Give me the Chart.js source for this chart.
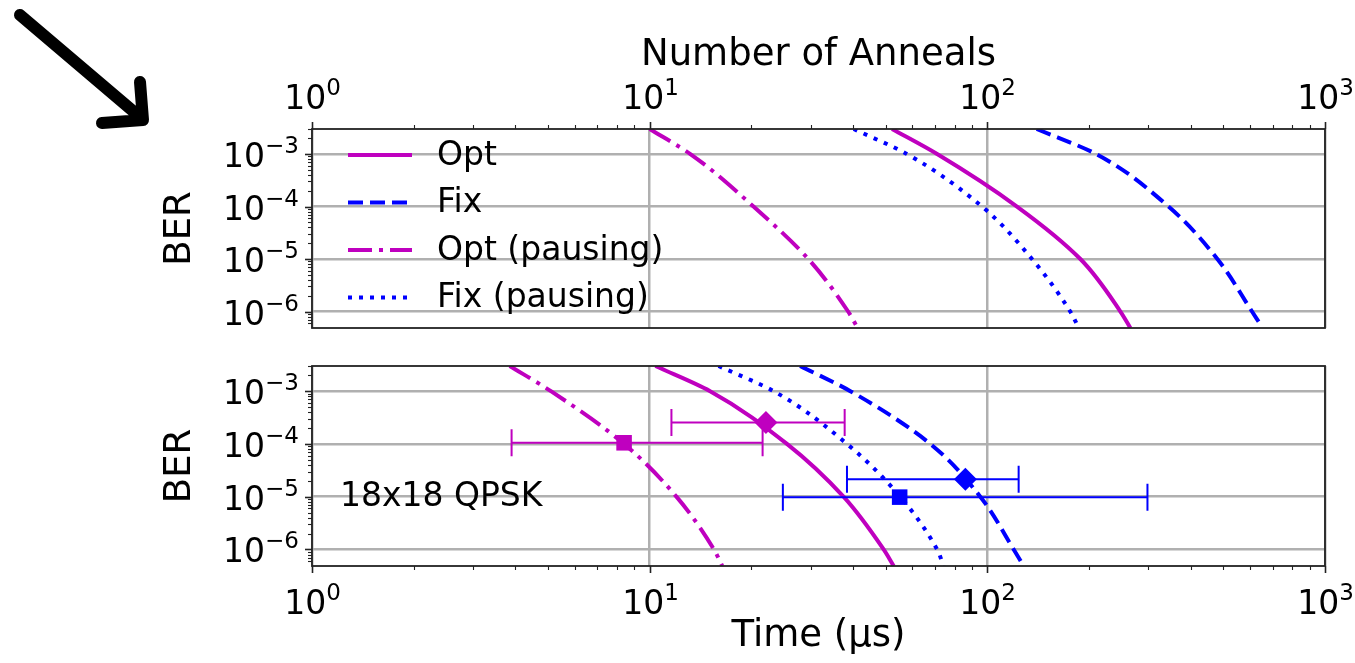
<!DOCTYPE html>
<html>
<head>
<meta charset="utf-8">
<title>BER vs time</title>
<script src="https://cdn.jsdelivr.net/npm/chart.js@4.4.1/dist/chart.umd.min.js"></script>
<style>
  html, body { margin: 0; padding: 0; background: #fff; }
  #wrap { position: relative; width: 1355px; height: 663px; overflow: hidden; }
  #topBox { position: absolute; left: 0; top: 0; width: 1355px; height: 345px; }
  #bottomBox { position: absolute; left: 0; top: 345px; width: 1355px; height: 318px; }
</style>
</head>
<body>
<div id="wrap">
  <div id="topBox"><canvas id="topChart"></canvas></div>
  <div id="bottomBox"><canvas id="bottomChart"></canvas></div>
</div>
<script>
// axis ranges
const X_MIN = 1, X_MAX = 1000;
const BER_MIN = 4.85e-7, BER_MAX = 3.0e-3;

// BER levels the curves were read at (top edge, each decade, bottom edge)
const curveBer = [3.0e-3, 1e-3, 1e-4, 1e-5, 1e-6, 4.85e-7];
const fixTopBer = [3.0e-3, 1e-3, 1e-4, 1e-5, 1e-6, 6.3e-7];

// top panel, x = number of anneals
const annealOpt = [52.2, 71, 122.4, 188.6, 247.8, 265.3];
const annealFix = [140, 210, 344, 480, 608, 637];
const annealOptPause = [10, 13.2, 20.3, 29.5, 38.7, 41.3];
const annealFixPause = [40.2, 57.8, 96.4, 135.6, 176, 186.5];

// bottom panel, x = time in us
const timeOpt = [10.4, 15.1, 25.5, 37.5, 49.3, 52.8];
const timeFix = [27.9, 39.3, 67.8, 95.3, 119.7, 128.1];
const timeOptPause = [3.85, 5.1, 8.4, 12.0, 15.5, 16.4];
const timeFixPause = [16.0, 23.3, 38.4, 55.2, 71, 74.2];

// measured points with horizontal error bars
const measLabels = ['Opt (pausing)', 'Opt', 'Fix (pausing)', 'Fix'];
const measTime = [8.4, 22.1, 55, 86.1];
const measTimeLow = [3.9, 11.6, 24.8, 38.4];
const measTimeHigh = [21.6, 37.8, 298, 123.8];
const measBer = [1.05e-4, 2.55e-4, 0.98e-5, 2.13e-5];

const MAGENTA = '#bf00bf';
const BLUE = '#0000ff';
const FONT = 'DejaVu Sans';
const FONT_SIZE = 33;
const SUP_SIZE = 23;
const TITLE_SIZE = 37;

Chart.defaults.font.family = FONT;
Chart.defaults.font.size = FONT_SIZE;
Chart.defaults.color = '#000';

function decade(v) {
  const e = Math.log10(v);
  const r = Math.round(e);
  return Math.abs(e - r) < 1e-6 ? r : null;
}

// 1..9 for ticks on the log grid, null for anything else (axis ends, 1.5 steps)
function mantissa(v) {
  const e = Math.floor(Math.log10(v) + 1e-9);
  const m = v / Math.pow(10, e);
  const r = Math.round(m);
  return (Math.abs(m - r) < 1e-6 && r >= 1 && r <= 9) ? r : null;
}

function pts(xs, ys) {
  return xs.map((x, i) => ({x: x, y: ys[i]}));
}

// curves are smooth in x as a function of BER, so BER is the index axis
function curve(label, xs, ys, color, dash) {
  return {
    type: 'line',
    indexAxis: 'y',
    label: label,
    data: pts(xs, ys),
    borderColor: color,
    backgroundColor: color,
    borderWidth: 4,
    borderDash: dash,
    borderCapStyle: 'butt',
    pointRadius: 0,
    fill: false,
    cubicInterpolationMode: 'monotone',
    clip: 0
  };
}

function marker(i, color, style) {
  return {
    label: measLabels[i],
    data: [{x: measTime[i], y: measBer[i]}],
    errLow: [measTimeLow[i]],
    errHigh: [measTimeHigh[i]],
    borderColor: color,
    backgroundColor: color,
    pointStyle: style,
    pointRadius: style === 'rect' ? 11 : 11.5,
    borderWidth: 0
  };
}

const DASH_OPT = [];
const DASH_FIX = [15, 7];
const DASH_OPT_PAUSE = [24, 7, 4, 7];
const DASH_FIX_PAUSE = [4, 7];

const gridColor = ctx => (ctx.tick && decade(ctx.tick.value) !== null) ? '#b0b0b0' : 'rgba(0,0,0,0)';

function xAxis(position, title, height) {
  return {
    type: 'logarithmic',
    position: position,
    min: X_MIN,
    max: X_MAX,
    title: {display: true, text: title, font: {size: TITLE_SIZE}, padding: {top: 4, bottom: 4}},
    ticks: {display: false, autoSkip: false},
    grid: {color: gridColor, lineWidth: 2.5, drawTicks: false},
    border: {display: false},
    afterFit: s => {
      s.height = height;
      s.paddingLeft = 0;
      s.paddingRight = 0;
    }
  };
}

function yAxis() {
  return {
    type: 'logarithmic',
    position: 'left',
    min: BER_MIN,
    max: BER_MAX,
    title: {display: true, text: 'BER', font: {size: TITLE_SIZE}, padding: {top: 4, bottom: 4}},
    ticks: {display: false, autoSkip: false},
    grid: {color: gridColor, lineWidth: 2.5, drawTicks: false},
    border: {display: false},
    afterFit: s => {
      s.width = 158;
      s.paddingTop = 0;
      s.paddingBottom = 0;
    }
  };
}

// draws "10" with a raised exponent, like matplotlib's log tick labels
function drawPow(ctx, exp, x, baseline, align) {
  const base = '10';
  const sup = exp < 0 ? '\u2212' + (-exp) : String(exp);
  ctx.font = FONT_SIZE + 'px "' + FONT + '"';
  const wb = ctx.measureText(base).width;
  ctx.font = SUP_SIZE + 'px "' + FONT + '"';
  const ws = ctx.measureText(sup).width;
  const start = align === 'right' ? x - wb - ws : x - (wb + ws) / 2;
  ctx.font = FONT_SIZE + 'px "' + FONT + '"';
  ctx.fillText(base, start, baseline);
  ctx.font = SUP_SIZE + 'px "' + FONT + '"';
  ctx.fillText(sup, start + wb, baseline - 14);
}

// axes box, matplotlib style major/minor tick marks and decade labels
const frame = {
  id: 'frame',
  afterDraw(chart) {
    const {ctx, chartArea} = chart;
    const xs = chart.scales.x, ys = chart.scales.y;
    ctx.save();
    ctx.strokeStyle = '#222';
    ctx.fillStyle = '#000';
    ctx.textBaseline = 'alphabetic';
    ctx.textAlign = 'left';
    xs.ticks.forEach(t => {
      const m = mantissa(t.value);
      if (m === null) return;
      const len = m === 1 ? 7 : 4;
      const px = Math.round(xs.getPixelForValue(t.value)) + 0.5;
      ctx.lineWidth = m === 1 ? 1.6 : 1.1;
      ctx.beginPath();
      if (xs.position === 'top') {
        ctx.moveTo(px, chartArea.top);
        ctx.lineTo(px, chartArea.top - len);
      } else {
        ctx.moveTo(px, chartArea.bottom);
        ctx.lineTo(px, chartArea.bottom + len);
      }
      ctx.stroke();
      const e = decade(t.value);
      if (e !== null) {
        const bl = xs.position === 'top' ? chartArea.top - 20 : chartArea.bottom + 48;
        drawPow(ctx, e, px, bl, 'center');
      }
    });
    ys.ticks.forEach(t => {
      const m = mantissa(t.value);
      if (m === null) return;
      const len = m === 1 ? 7 : 4;
      const py = Math.round(ys.getPixelForValue(t.value)) + 0.5;
      ctx.lineWidth = m === 1 ? 1.6 : 1.1;
      ctx.beginPath();
      ctx.moveTo(chartArea.left, py);
      ctx.lineTo(chartArea.left - len, py);
      ctx.stroke();
      const e = decade(t.value);
      if (e !== null) drawPow(ctx, e, chartArea.left - 13, py + 12, 'right');
    });
    ctx.lineWidth = 1.8;
    ctx.strokeRect(chartArea.left, chartArea.top, chartArea.right - chartArea.left, chartArea.bottom - chartArea.top);
    ctx.restore();
  }
};

// legend drawn inside the plot, upper left, no frame
const insideLegend = {
  id: 'insideLegend',
  afterDatasetsDraw(chart, args, opts) {
    const {ctx, chartArea} = chart;
    ctx.save();
    ctx.font = FONT_SIZE + 'px "' + FONT + '"';
    ctx.textBaseline = 'middle';
    ctx.textAlign = 'left';
    chart.data.datasets.forEach((ds, i) => {
      const y = chartArea.top + opts.top + i * opts.rowGap;
      const x0 = chartArea.left + opts.left;
      ctx.strokeStyle = ds.borderColor;
      ctx.lineWidth = ds.borderWidth;
      ctx.lineCap = 'butt';
      ctx.setLineDash(ds.borderDash || []);
      ctx.beginPath();
      ctx.moveTo(x0, y);
      ctx.lineTo(x0 + opts.lineLen, y);
      ctx.stroke();
      ctx.setLineDash([]);
      ctx.fillStyle = '#000';
      ctx.fillText(ds.label, x0 + opts.lineLen + opts.gap, y + 1);
    });
    ctx.restore();
  }
};

// horizontal error bars with caps, drawn just under each marker
const xErrorBars = {
  id: 'xErrorBars',
  beforeDatasetDraw(chart, args) {
    const ds = chart.data.datasets[args.index];
    if (!ds.errLow) return;
    const {ctx} = chart;
    const xs = chart.scales.x, ys = chart.scales.y;
    ctx.save();
    ctx.strokeStyle = ds.borderColor;
    ctx.lineWidth = 2;
    ds.data.forEach((p, i) => {
      const y = ys.getPixelForValue(p.y);
      const x1 = xs.getPixelForValue(ds.errLow[i]);
      const x2 = xs.getPixelForValue(ds.errHigh[i]);
      ctx.beginPath();
      ctx.moveTo(x1, y);
      ctx.lineTo(x2, y);
      ctx.moveTo(x1, y - 13.5);
      ctx.lineTo(x1, y + 13.5);
      ctx.moveTo(x2, y - 13.5);
      ctx.lineTo(x2, y + 13.5);
      ctx.stroke();
    });
    ctx.restore();
  }
};

// text placed at data coordinates
const panelNote = {
  id: 'panelNote',
  afterDatasetsDraw(chart, args, opts) {
    const {ctx} = chart;
    ctx.save();
    ctx.font = FONT_SIZE + 'px "' + FONT + '"';
    ctx.fillStyle = '#000';
    ctx.textBaseline = 'middle';
    ctx.textAlign = 'left';
    ctx.fillText(opts.text, chart.scales.x.getPixelForValue(opts.x), chart.scales.y.getPixelForValue(opts.y) + 1);
    ctx.restore();
  }
};

// the hand drawn arrow in the upper left corner of the figure
const cornerArrow = {
  id: 'cornerArrow',
  afterDraw(chart) {
    const {ctx} = chart;
    ctx.save();
    ctx.strokeStyle = '#000';
    ctx.lineWidth = 12;
    ctx.lineCap = 'round';
    ctx.lineJoin = 'round';
    ctx.beginPath();
    ctx.moveTo(20, 15);
    ctx.lineTo(140, 117);
    ctx.moveTo(102, 123);
    ctx.lineTo(143, 120);
    ctx.lineTo(140, 82);
    ctx.stroke();
    ctx.restore();
  }
};

const common = {
  responsive: true,
  maintainAspectRatio: false,
  animation: false,
  devicePixelRatio: 1,
  events: [],
  plugins: {legend: {display: false}, tooltip: {enabled: false}}
};

new Chart(document.getElementById('topChart'), {
  type: 'scatter',
  data: {
    datasets: [
      curve('Opt', annealOpt, curveBer, MAGENTA, DASH_OPT),
      curve('Fix', annealFix, fixTopBer, BLUE, DASH_FIX),
      curve('Opt (pausing)', annealOptPause, curveBer, MAGENTA, DASH_OPT_PAUSE),
      curve('Fix (pausing)', annealFixPause, curveBer, BLUE, DASH_FIX_PAUSE)
    ]
  },
  options: Object.assign({}, common, {
    layout: {padding: {left: 154, right: 30, top: 29, bottom: 17}},
    scales: {
      x: xAxis('top', 'Number of Anneals', 100),
      y: yAxis()
    },
    plugins: Object.assign({}, common.plugins, {
      insideLegend: {top: 26, rowGap: 47.5, left: 36, lineLen: 64, gap: 25}
    })
  }),
  plugins: [frame, insideLegend, cornerArrow]
});

new Chart(document.getElementById('bottomChart'), {
  type: 'scatter',
  data: {
    datasets: [
      marker(0, MAGENTA, 'rect'),
      marker(1, MAGENTA, 'rectRot'),
      marker(2, BLUE, 'rect'),
      marker(3, BLUE, 'rectRot'),
      curve('Opt', timeOpt, curveBer, MAGENTA, DASH_OPT),
      curve('Fix', timeFix, curveBer, BLUE, DASH_FIX),
      curve('Opt (pausing)', timeOptPause, curveBer, MAGENTA, DASH_OPT_PAUSE),
      curve('Fix (pausing)', timeFixPause, curveBer, BLUE, DASH_FIX_PAUSE)
    ]
  },
  options: Object.assign({}, common, {
    layout: {padding: {left: 154, right: 30, top: 21, bottom: 0}},
    scales: {
      x: xAxis('bottom', 'Time (\u03bcs)', 97),
      y: yAxis()
    },
    plugins: Object.assign({}, common.plugins, {
      panelNote: {text: '18x18 QPSK', x: 1.21, y: 1e-5}
    })
  }),
  plugins: [frame, xErrorBars, panelNote]
});
</script>
</body>
</html>
